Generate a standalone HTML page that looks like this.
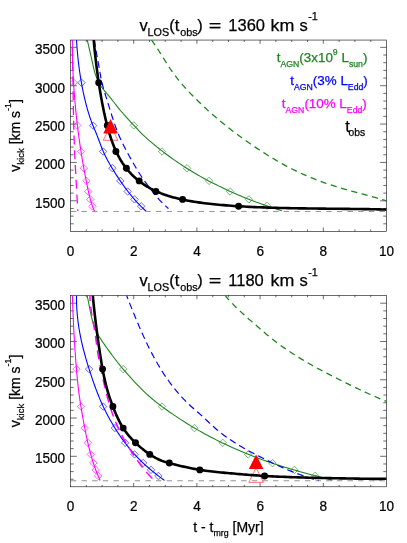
<!DOCTYPE html>
<html><head><meta charset="utf-8"><title>v_kick vs t - t_mrg</title>
<style>html,body{margin:0;padding:0;background:#fff;}body{width:407px;height:543px;overflow:hidden;font-family:"Liberation Sans", sans-serif;}</style></head>
<body>
<svg width="407" height="543" viewBox="0 0 407 543" font-family='"Liberation Sans", sans-serif' style="display:block;will-change:transform">
<rect width="407" height="543" fill="#fff"/>
<clipPath id="clip0"><rect x="70.5" y="40.05" width="316" height="191.25"/></clipPath>
<path d="M70.5 223.81h3.2M386.5 223.81h-3.2M70.5 216.13h3.2M386.5 216.13h-3.2M70.5 208.46h3.2M386.5 208.46h-3.2M70.5 200.79h6.3M386.5 200.79h-6.3M70.5 193.12h3.2M386.5 193.12h-3.2M70.5 185.45h3.2M386.5 185.45h-3.2M70.5 177.77h3.2M386.5 177.77h-3.2M70.5 170.1h3.2M386.5 170.1h-3.2M70.5 162.43h6.3M386.5 162.43h-6.3M70.5 154.76h3.2M386.5 154.76h-3.2M70.5 147.09h3.2M386.5 147.09h-3.2M70.5 139.41h3.2M386.5 139.41h-3.2M70.5 131.74h3.2M386.5 131.74h-3.2M70.5 124.07h6.3M386.5 124.07h-6.3M70.5 116.4h3.2M386.5 116.4h-3.2M70.5 108.73h3.2M386.5 108.73h-3.2M70.5 101.05h3.2M386.5 101.05h-3.2M70.5 93.38h3.2M386.5 93.38h-3.2M70.5 85.71h6.3M386.5 85.71h-6.3M70.5 78.04h3.2M386.5 78.04h-3.2M70.5 70.37h3.2M386.5 70.37h-3.2M70.5 62.69h3.2M386.5 62.69h-3.2M70.5 55.02h3.2M386.5 55.02h-3.2M70.5 47.35h6.3M386.5 47.35h-6.3M86.3 231.3v-1.9M86.3 40.05v1.9M102.1 231.3v-1.9M102.1 40.05v1.9M117.9 231.3v-1.9M117.9 40.05v1.9M133.7 231.3v-3.8M133.7 40.05v3.8M149.5 231.3v-1.9M149.5 40.05v1.9M165.3 231.3v-1.9M165.3 40.05v1.9M181.1 231.3v-1.9M181.1 40.05v1.9M196.9 231.3v-3.8M196.9 40.05v3.8M212.7 231.3v-1.9M212.7 40.05v1.9M228.5 231.3v-1.9M228.5 40.05v1.9M244.3 231.3v-1.9M244.3 40.05v1.9M260.1 231.3v-3.8M260.1 40.05v3.8M275.9 231.3v-1.9M275.9 40.05v1.9M291.7 231.3v-1.9M291.7 40.05v1.9M307.5 231.3v-1.9M307.5 40.05v1.9M323.3 231.3v-3.8M323.3 40.05v3.8M339.1 231.3v-1.9M339.1 40.05v1.9M354.9 231.3v-1.9M354.9 40.05v1.9M370.7 231.3v-1.9M370.7 40.05v1.9" stroke="#000" stroke-width="0.58" fill="none"/>
<rect x="70.5" y="40.05" width="316" height="191.25" fill="none" stroke="#000" stroke-width="0.58"/>
<g clip-path="url(#clip0)" fill="none" stroke-linecap="butt" stroke-linejoin="round">
<path d="M70.9 211.45H386.5" stroke="#808080" stroke-width="0.85" stroke-dasharray="5.4 5.24"/>
<path d="M72.4 39.9L72.36 42.6L72.35 45.33L72.35 48.1L72.36 50.89L72.4 53.7L72.45 56.53L72.51 59.39L72.59 62.26L72.69 65.14L72.8 68.03L72.92 70.93L73.06 73.84L73.21 76.75L73.37 79.65L73.55 82.56L73.73 85.46L73.93 88.35L74.13 91.23L74.35 94.1L74.58 96.95L74.81 99.78L75.05 102.59L75.3 105.38L75.56 108.14L75.83 110.86L76.1 113.56L76.37 116.22L76.66 118.85L76.94 121.43L77.24 123.97L77.53 126.47L77.83 128.92L78.13 131.32L78.44 133.68L78.74 135.99L79.05 138.25L79.36 140.47L79.67 142.65L79.98 144.78L80.3 146.87L80.61 148.91L80.92 150.91L81.22 152.87L81.53 154.78L81.84 156.65L82.14 158.49L82.44 160.28L82.74 162.04L83.04 163.77L83.34 165.46L83.64 167.12L83.93 168.74L84.22 170.34L84.52 171.91L84.81 173.46L85.09 174.97L85.38 176.47L85.67 177.94L85.95 179.39L86.23 180.82L86.51 182.24L86.79 183.63L87.07 185.01L87.34 186.37L87.62 187.71L87.9 189.03L88.18 190.33L88.46 191.61L88.75 192.87L89.04 194.12L89.33 195.34L89.62 196.55L89.92 197.73L90.23 198.89L90.54 200.04L90.86 201.16L91.18 202.26L91.51 203.34L91.85 204.4L92.2 205.44L92.56 206.45L92.93 207.45L93.3 208.42L93.69 209.37L94.09 210.3L94.5 211.2" stroke="#ff00ff" stroke-width="1.1"/>
<path d="M69.9 82.7L73.6 79L77.3 82.7L73.6 86.4ZM73.6 125.4L77.3 121.7L81 125.4L77.3 129.1ZM77.3 151.5L81 147.8L84.7 151.5L81 155.2ZM80.2 168.2L83.9 164.5L87.6 168.2L83.9 171.9ZM82.7 180.9L86.4 177.2L90.1 180.9L86.4 184.6ZM84.6 191.5L88.3 187.8L92 191.5L88.3 195.2ZM86.6 199.4L90.3 195.7L94 199.4L90.3 203.1ZM88.8 206.3L92.5 202.6L96.2 206.3L92.5 210Z" stroke="#ff00ff" stroke-width="0.6"/>
<path d="M76.5 39.9L76.71 43.26L76.94 46.57L77.2 49.84L77.48 53.06L77.78 56.24L78.11 59.37L78.45 62.45L78.82 65.49L79.21 68.47L79.61 71.41L80.03 74.29L80.47 77.13L80.93 79.91L81.4 82.64L81.89 85.32L82.39 87.94L82.9 90.51L83.42 93.03L83.96 95.49L84.51 97.89L85.06 100.24L85.63 102.53L86.2 104.76L86.79 106.93L87.37 109.05L87.97 111.1L88.57 113.09L89.17 115.02L89.78 116.89L90.39 118.7L91 120.44L91.61 122.12L92.23 123.74L92.84 125.28L93.45 126.77L94.06 128.22L94.67 129.64L95.28 131.06L95.9 132.51L96.52 134.01L97.14 135.58L97.77 137.23L98.41 138.95L99.06 140.73L99.73 142.56L100.42 144.43L101.14 146.32L101.89 148.22L102.67 150.13L103.49 152.02L104.35 153.9L105.24 155.76L106.17 157.59L107.12 159.4L108.09 161.19L109.08 162.96L110.08 164.7L111.09 166.42L112.1 168.11L113.11 169.77L114.11 171.4L115.12 173.01L116.12 174.59L117.12 176.14L118.12 177.67L119.12 179.17L120.11 180.64L121.11 182.09L122.1 183.51L123.09 184.9L124.07 186.27L125.05 187.62L126.04 188.94L127.02 190.24L127.99 191.51L128.97 192.75L129.94 193.97L130.91 195.17L131.88 196.34L132.84 197.49L133.81 198.62L134.77 199.72L135.72 200.8L136.68 201.86L137.63 202.89L138.58 203.9L139.53 204.89L140.48 205.86L141.42 206.8L142.36 207.73L143.3 208.63L144.24 209.51L145.17 210.36L146.1 211.2" stroke="#0000ff" stroke-width="1.1"/>
<path d="M77.8 82.7L81.5 79L85.2 82.7L81.5 86.4ZM89.4 125.6L93.1 121.9L96.8 125.6L93.1 129.3ZM99.4 151.5L103.1 147.8L106.8 151.5L103.1 155.2ZM108.7 168.2L112.4 164.5L116.1 168.2L112.4 171.9ZM116.6 180.9L120.3 177.2L124 180.9L120.3 184.6ZM124 191.5L127.7 187.8L131.4 191.5L127.7 195.2ZM130.8 199.4L134.5 195.7L138.2 199.4L134.5 203.1ZM137.5 206.3L141.2 202.6L144.9 206.3L141.2 210Z" stroke="#0000ff" stroke-width="0.6"/>
<path d="M87.2 39.8L90.3 53.2L94.6 72.1L98.4 82.8L98.4 82.8L99.02 83.71L99.75 84.72L100.58 85.82L101.49 86.99L102.47 88.23L103.5 89.51L104.58 90.83L105.68 92.16L106.79 93.51L107.9 94.85L108.99 96.17L110.05 97.45L111.07 98.69L112.02 99.87L112.91 100.98L113.73 102.03L114.51 103.02L115.26 103.99L115.99 104.93L116.72 105.87L117.46 106.82L118.23 107.8L119.05 108.81L119.92 109.87L120.87 111L121.91 112.21L123.05 113.51L124.28 114.89L125.58 116.33L126.93 117.81L128.31 119.31L129.69 120.82L131.06 122.31L132.4 123.76L133.68 125.15L134.9 126.48L136.06 127.74L137.19 128.96L138.31 130.16L139.45 131.35L140.64 132.55L141.89 133.79L143.23 135.08L144.68 136.43L146.23 137.84L147.88 139.31L149.62 140.82L151.43 142.37L153.3 143.94L155.23 145.54L157.19 147.14L159.2 148.74L161.22 150.33L163.26 151.9L165.3 153.45L167.34 154.97L169.39 156.48L171.44 157.96L173.5 159.41L175.55 160.85L177.62 162.26L179.68 163.65L181.74 165.02L183.81 166.36L185.88 167.69L187.95 168.99L190.02 170.27L192.09 171.53L194.15 172.77L196.22 173.99L198.29 175.19L200.36 176.37L202.42 177.53L204.49 178.67L206.55 179.79L208.61 180.89L210.67 181.98L212.72 183.04L214.77 184.08L216.82 185.11L218.86 186.12L220.9 187.11L222.93 188.08L224.96 189.04L226.98 189.98L229 190.9L231.01 191.81L233.01 192.7L235.01 193.57L237 194.42L238.99 195.26L240.96 196.09L242.93 196.9L244.89 197.69L246.84 198.47L248.78 199.23L250.71 199.98L252.63 200.72L254.55 201.44L256.45 202.15L258.34 202.84L260.22 203.52L262.09 204.18L263.95 204.84L265.79 205.48L267.62 206.11L269.44 206.72L271.25 207.32L273.04 207.92L274.82 208.5L276.59 209.06L278.34 209.62L280.08 210.17L281.8 210.7" stroke="#1e841e" stroke-width="1.1"/>
<path d="M130.1 125.4L133.8 121.7L137.5 125.4L133.8 129.1ZM158.3 151.5L162 147.8L165.7 151.5L162 155.2ZM183.3 168.2L187 164.5L190.7 168.2L187 171.9ZM205.4 180.9L209.1 177.2L212.8 180.9L209.1 184.6ZM226.3 191.5L230 187.8L233.7 191.5L230 195.2ZM245.2 199.4L248.9 195.7L252.6 199.4L248.9 203.1ZM263.3 205.8L267 202.1L270.7 205.8L267 209.5Z" stroke="#1e841e" stroke-width="0.6"/>
<path d="M151.5 39.9L152.83 41.82L154.05 43.6L155.18 45.26L156.23 46.82L157.21 48.29L158.12 49.68L158.98 51L159.8 52.28L160.6 53.53L161.37 54.76L162.13 55.98L162.9 57.21L163.67 58.46L164.47 59.75L165.31 61.09L166.18 62.49L167.08 63.93L168.03 65.41L169.02 66.93L170.06 68.49L171.14 70.08L172.27 71.7L173.45 73.35L174.68 75.01L175.95 76.69L177.26 78.38L178.59 80.07L179.96 81.75L181.34 83.42L182.74 85.07L184.16 86.69L185.58 88.29L187.01 89.85L188.44 91.38L189.88 92.89L191.31 94.36L192.74 95.82L194.17 97.25L195.6 98.66L197.01 100.05L198.42 101.42L199.83 102.77L201.22 104.12L202.62 105.45L204.02 106.76L205.42 108.07L206.82 109.37L208.24 110.66L209.66 111.95L211.09 113.23L212.54 114.51L214 115.79L215.48 117.07L216.98 118.36L218.5 119.64L220.05 120.94L221.62 122.24L223.23 123.55L224.86 124.86L226.52 126.18L228.2 127.51L229.9 128.84L231.62 130.17L233.37 131.5L235.13 132.84L236.9 134.17L238.69 135.5L240.49 136.82L242.31 138.14L244.13 139.45L245.96 140.76L247.8 142.05L249.64 143.34L251.49 144.62L253.33 145.88L255.18 147.13L257.02 148.36L258.86 149.58L260.71 150.78L262.55 151.97L264.39 153.15L266.22 154.3L268.06 155.45L269.9 156.58L271.74 157.69L273.58 158.79L275.42 159.88L277.26 160.94L279.11 162L280.95 163.04L282.8 164.06L284.65 165.07L286.5 166.07L288.36 167.05L290.22 168.01L292.08 168.96L293.95 169.9L295.82 170.82L297.7 171.72L299.58 172.61L301.46 173.49L303.35 174.35L305.25 175.2L307.15 176.03L309.06 176.84L310.97 177.64L312.9 178.43L314.82 179.2L316.76 179.96L318.7 180.7L320.66 181.43L322.61 182.14L324.58 182.84L326.56 183.52L328.54 184.19L330.53 184.84L332.52 185.49L334.52 186.12L336.52 186.73L338.51 187.34L340.51 187.94L342.5 188.52L344.5 189.1L346.48 189.67L348.46 190.23L350.44 190.78L352.4 191.32L354.35 191.86L356.3 192.39L358.23 192.91L360.15 193.43L362.05 193.95L363.94 194.46L365.8 194.97L367.65 195.47L369.48 195.98L371.29 196.48L373.08 196.98L374.84 197.48L376.58 197.98L378.29 198.47L379.97 198.98L381.63 199.48L383.25 199.98L384.84 200.49L386.4 201" stroke="#1e841e" stroke-width="1.3" stroke-dasharray="6.2 4.5"/>
<path d="M94.5 39.9L94.77 42.09L95.06 44.22L95.37 46.32L95.7 48.38L96.04 50.43L96.4 52.47L96.76 54.52L97.14 56.59L97.53 58.69L97.92 60.83L98.32 63.04L98.73 65.31L99.13 67.66L99.55 70.07L99.98 72.52L100.41 74.97L100.87 77.41L101.35 79.8L101.85 82.12L102.38 84.35L102.93 86.5L103.51 88.58L104.11 90.63L104.73 92.68L105.36 94.73L106.01 96.82L106.67 98.94L107.34 101.09L108.01 103.25L108.69 105.43L109.37 107.61L110.04 109.78L110.71 111.93L111.38 114.08L112.06 116.22L112.73 118.34L113.42 120.45L114.12 122.55L114.84 124.64L115.57 126.72L116.33 128.8L117.11 130.86L117.92 132.91L118.76 134.96L119.64 136.99L120.54 139.02L121.48 141.04L122.45 143.06L123.44 145.06L124.45 147.06L125.48 149.05L126.53 151.03L127.6 153.01L128.68 154.98L129.76 156.94L130.86 158.89L131.95 160.83L133.05 162.77L134.15 164.68L135.23 166.56L136.31 168.39L137.37 170.16L138.41 171.86L139.43 173.48L140.43 175.04L141.42 176.55L142.43 178.03L143.45 179.49L144.49 180.97L145.56 182.45L146.65 183.93L147.76 185.4L148.87 186.86L149.98 188.31L151.09 189.74L152.2 191.13L153.28 192.5L154.35 193.82L155.39 195.1L156.4 196.33L157.4 197.51L158.38 198.66L159.36 199.77L160.33 200.84L161.31 201.88L162.3 202.89L163.3 203.88L164.31 204.83L165.3 205.73L166.23 206.58L167.07 207.34L167.81 208.02L168.4 208.6" stroke="#0000ff" stroke-width="1.18" stroke-dasharray="6.7 4.1"/>
<path d="M72.2 39.9L72.27 42.72L72.33 45.5L72.4 48.22L72.45 50.89L72.51 53.51L72.56 56.09L72.61 58.61L72.66 61.1L72.7 63.54L72.75 65.94L72.79 68.3L72.83 70.63L72.86 72.91L72.9 75.16L72.93 77.38L72.96 79.56L72.99 81.71L73.02 83.83L73.05 85.93L73.08 87.99L73.11 90.04L73.13 92.05L73.16 94.05L73.19 96.02L73.21 97.97L73.24 99.91L73.27 101.83L73.3 103.73L73.32 105.62L73.35 107.49L73.38 109.36L73.42 111.22L73.45 113.06L73.48 114.9L73.52 116.74L73.55 118.57L73.59 120.4L73.64 122.23L73.68 124.05L73.73 125.88L73.77 127.72L73.82 129.56L73.88 131.4L73.94 133.25L74 135.11L74.06 136.98L74.13 138.86L74.2 140.75L74.27 142.65L74.34 144.56L74.42 146.47L74.5 148.4L74.59 150.33L74.67 152.26L74.76 154.2L74.85 156.15L74.94 158.11L75.04 160.07L75.13 162.03L75.23 164L75.33 165.97L75.43 167.94L75.54 169.92L75.64 171.9L75.75 173.88L75.86 175.87L75.96 177.85L76.07 179.84L76.18 181.82L76.3 183.81L76.41 185.8L76.52 187.78L76.64 189.76L76.75 191.74L76.86 193.71L76.97 195.65L77.08 197.57L77.19 199.45L77.29 201.29L77.39 203.08L77.49 204.81L77.58 206.47L77.66 208.07L77.73 209.58L77.8 211" stroke="#ff00ff" stroke-width="1.3" stroke-dasharray="9 5.75" stroke-dashoffset="7.6"/>
<path d="M110.55 125.9L117.85 140.3L103.25 140.3Z" stroke="#ff0000" stroke-width="0.55"/>
<path d="M93.7 39.9L93.86 41.76L94.04 43.65L94.22 45.55L94.4 47.48L94.59 49.42L94.8 51.37L95 53.35L95.22 55.34L95.44 57.34L95.67 59.35L95.9 61.37L96.15 63.41L96.4 65.45L96.65 67.5L96.92 69.55L97.19 71.61L97.47 73.68L97.75 75.75L98.04 77.82L98.34 79.89L98.65 81.96L98.96 84.03L99.28 86.09L99.6 88.16L99.93 90.21L100.27 92.26L100.62 94.31L100.97 96.34L101.33 98.37L101.7 100.38L102.07 102.39L102.45 104.38L102.84 106.35L103.23 108.31L103.63 110.26L104.04 112.18L104.45 114.09L104.87 115.98L105.3 117.85L105.73 119.69L106.17 121.52L106.62 123.32L107.07 125.09L107.53 126.83L108 128.55L108.47 130.25L108.95 131.91L109.44 133.56L109.94 135.17L110.45 136.76L110.96 138.33L111.48 139.87L112.02 141.38L112.56 142.87L113.11 144.33L113.68 145.78L114.25 147.19L114.84 148.58L115.44 149.95L116.04 151.29L116.67 152.61L117.3 153.91L117.94 155.19L118.6 156.44L119.27 157.67L119.96 158.87L120.65 160.06L121.36 161.22L122.09 162.36L122.82 163.49L123.57 164.59L124.34 165.67L125.11 166.73L125.9 167.78L126.71 168.8L127.53 169.81L128.36 170.79L129.21 171.76L130.07 172.72L130.94 173.65L131.83 174.57L132.74 175.47L133.66 176.36L134.6 177.23L135.55 178.08L136.51 178.92L137.49 179.74L138.49 180.55L139.5 181.35L140.53 182.13L141.58 182.9L142.64 183.65L143.72 184.39L144.82 185.12L145.94 185.83L147.08 186.53L148.24 187.22L149.42 187.89L150.63 188.56L151.85 189.2L153.1 189.84L154.38 190.46L155.68 191.07L157.01 191.66L158.36 192.24L159.74 192.81L161.15 193.37L162.58 193.92L164.05 194.45L165.54 194.97L167.07 195.48L168.63 195.98L170.22 196.46L171.84 196.93L173.49 197.39L175.18 197.84L176.91 198.28L178.67 198.7L180.47 199.12L182.3 199.52L184.17 199.91L186.08 200.29L188.02 200.66L190 201.01L192.02 201.36L194.07 201.7L196.16 202.02L198.28 202.34L200.43 202.64L202.61 202.94L204.83 203.22L207.08 203.5L209.35 203.76L211.66 204.02L214 204.26L216.36 204.5L218.76 204.73L221.18 204.95L223.62 205.16L226.09 205.37L228.59 205.56L231.11 205.75L233.66 205.93L236.23 206.1L238.82 206.26L241.44 206.42L244.07 206.57L246.73 206.71L249.4 206.84L252.09 206.97L254.8 207.09L257.52 207.21L260.26 207.32L263.01 207.42L265.77 207.52L268.55 207.61L271.33 207.7L274.12 207.78L276.92 207.86L279.73 207.93L282.54 208L285.35 208.07L288.17 208.13L290.99 208.19L293.81 208.24L296.63 208.29L299.45 208.34L302.27 208.38L305.08 208.42L307.89 208.46L310.69 208.5L313.49 208.54L316.27 208.57L319.05 208.6L321.82 208.63L324.58 208.66L327.32 208.69L330.05 208.72L332.77 208.74L335.47 208.77L338.15 208.79L340.81 208.82L343.46 208.85L346.08 208.87L348.68 208.9L351.26 208.93L353.82 208.96L356.35 208.99L358.86 209.02L361.34 209.06L363.79 209.09L366.21 209.13L368.6 209.17L370.96 209.21L373.29 209.26L375.58 209.31L377.84 209.36L380.06 209.41L382.25 209.47L384.39 209.53L386.5 209.6" stroke="#000" stroke-width="2.6"/>
<g fill="#000" stroke="none"><circle cx="98.7" cy="82.7" r="3.45"/><circle cx="107.3" cy="125.4" r="3.45"/><circle cx="115.9" cy="151.5" r="3.45"/><circle cx="126.4" cy="168.2" r="3.45"/><circle cx="139.2" cy="180.9" r="3.45"/><circle cx="155.9" cy="191.5" r="3.45"/><circle cx="182.6" cy="199.4" r="3.45"/><circle cx="238.6" cy="206.3" r="3.45"/></g>
<path d="M110.55 119L117.85 133.4L103.25 133.4Z" fill="#ff0000" stroke="none"/>
</g>
<g font-size="14.6" fill="#000" stroke="#000" stroke-width="0.25">
<text transform="translate(65.1 207.79) scale(0.93 1)" text-anchor="end">1500</text>
<text transform="translate(65.1 169.43) scale(0.93 1)" text-anchor="end">2000</text>
<text transform="translate(65.1 131.07) scale(0.93 1)" text-anchor="end">2500</text>
<text transform="translate(65.1 92.71) scale(0.93 1)" text-anchor="end">3000</text>
<text transform="translate(65.1 54.35) scale(0.93 1)" text-anchor="end">3500</text>
<text transform="translate(70.6 255.9) scale(0.93 1)" text-anchor="middle">0</text>
<text transform="translate(133.8 255.9) scale(0.93 1)" text-anchor="middle">2</text>
<text transform="translate(197 255.9) scale(0.93 1)" text-anchor="middle">4</text>
<text transform="translate(260.2 255.9) scale(0.93 1)" text-anchor="middle">6</text>
<text transform="translate(323.4 255.9) scale(0.93 1)" text-anchor="middle">8</text>
<text transform="translate(386.6 255.9) scale(0.93 1)" text-anchor="middle">10</text>
</g>
<clipPath id="clip1"><rect x="70.5" y="295.4" width="316" height="191.4"/></clipPath>
<path d="M70.5 479.26h3.2M386.5 479.26h-3.2M70.5 471.61h3.2M386.5 471.61h-3.2M70.5 463.96h3.2M386.5 463.96h-3.2M70.5 456.3h6.3M386.5 456.3h-6.3M70.5 448.64h3.2M386.5 448.64h-3.2M70.5 440.99h3.2M386.5 440.99h-3.2M70.5 433.34h3.2M386.5 433.34h-3.2M70.5 425.68h3.2M386.5 425.68h-3.2M70.5 418.02h6.3M386.5 418.02h-6.3M70.5 410.37h3.2M386.5 410.37h-3.2M70.5 402.72h3.2M386.5 402.72h-3.2M70.5 395.06h3.2M386.5 395.06h-3.2M70.5 387.4h3.2M386.5 387.4h-3.2M70.5 379.75h6.3M386.5 379.75h-6.3M70.5 372.1h3.2M386.5 372.1h-3.2M70.5 364.44h3.2M386.5 364.44h-3.2M70.5 356.78h3.2M386.5 356.78h-3.2M70.5 349.13h3.2M386.5 349.13h-3.2M70.5 341.48h6.3M386.5 341.48h-6.3M70.5 333.82h3.2M386.5 333.82h-3.2M70.5 326.16h3.2M386.5 326.16h-3.2M70.5 318.51h3.2M386.5 318.51h-3.2M70.5 310.86h3.2M386.5 310.86h-3.2M70.5 303.2h6.3M386.5 303.2h-6.3M86.3 486.8v-1.9M86.3 295.4v1.9M102.1 486.8v-1.9M102.1 295.4v1.9M117.9 486.8v-1.9M117.9 295.4v1.9M133.7 486.8v-3.8M133.7 295.4v3.8M149.5 486.8v-1.9M149.5 295.4v1.9M165.3 486.8v-1.9M165.3 295.4v1.9M181.1 486.8v-1.9M181.1 295.4v1.9M196.9 486.8v-3.8M196.9 295.4v3.8M212.7 486.8v-1.9M212.7 295.4v1.9M228.5 486.8v-1.9M228.5 295.4v1.9M244.3 486.8v-1.9M244.3 295.4v1.9M260.1 486.8v-3.8M260.1 295.4v3.8M275.9 486.8v-1.9M275.9 295.4v1.9M291.7 486.8v-1.9M291.7 295.4v1.9M307.5 486.8v-1.9M307.5 295.4v1.9M323.3 486.8v-3.8M323.3 295.4v3.8M339.1 486.8v-1.9M339.1 295.4v1.9M354.9 486.8v-1.9M354.9 295.4v1.9M370.7 486.8v-1.9M370.7 295.4v1.9" stroke="#000" stroke-width="0.58" fill="none"/>
<rect x="70.5" y="295.4" width="316" height="191.4" fill="none" stroke="#000" stroke-width="0.58"/>
<g clip-path="url(#clip1)" fill="none" stroke-linecap="butt" stroke-linejoin="round">
<path d="M70.9 480.75H386.5" stroke="#808080" stroke-width="0.85" stroke-dasharray="5.4 5.24"/>
<path d="M72.4 295.4L72.5 298.68L72.6 301.92L72.71 305.13L72.83 308.31L72.95 311.45L73.08 314.56L73.21 317.63L73.35 320.67L73.49 323.67L73.63 326.63L73.78 329.55L73.94 332.44L74.1 335.28L74.26 338.09L74.42 340.85L74.59 343.57L74.76 346.26L74.93 348.9L75.11 351.49L75.29 354.05L75.47 356.56L75.65 359.02L75.84 361.44L76.02 363.82L76.21 366.14L76.4 368.42L76.59 370.66L76.78 372.85L76.97 374.99L77.17 377.1L77.37 379.18L77.58 381.22L77.79 383.24L78 385.24L78.23 387.22L78.46 389.18L78.7 391.13L78.96 393.08L79.22 395.02L79.49 396.96L79.77 398.9L80.05 400.85L80.35 402.81L80.66 404.78L80.98 406.77L81.31 408.78L81.64 410.81L81.99 412.85L82.34 414.89L82.7 416.94L83.06 418.98L83.43 421.01L83.8 423.03L84.17 425.03L84.55 427L84.93 428.94L85.3 430.85L85.68 432.73L86.06 434.58L86.44 436.39L86.82 438.17L87.21 439.92L87.59 441.63L87.97 443.3L88.36 444.94L88.74 446.54L89.13 448.11L89.52 449.65L89.9 451.15L90.29 452.62L90.68 454.06L91.07 455.47L91.47 456.85L91.86 458.21L92.26 459.53L92.65 460.83L93.05 462.1L93.45 463.34L93.85 464.56L94.25 465.75L94.66 466.93L95.07 468.08L95.47 469.2L95.88 470.31L96.3 471.4L96.71 472.47L97.13 473.51L97.54 474.54L97.96 475.56L98.39 476.56L98.81 477.54L99.24 478.51L99.67 479.46L100.1 480.4" stroke="#ff00ff" stroke-width="1.1"/>
<path d="M72.8 369.1L76.5 365.4L80.2 369.1L76.5 372.8ZM77.3 406.5L81 402.8L84.7 406.5L81 410.2ZM81 428.1L84.7 424.4L88.4 428.1L84.7 431.8ZM84.2 442.8L87.9 439.1L91.6 442.8L87.9 446.5ZM87.1 454.4L90.8 450.7L94.5 454.4L90.8 458.1ZM89.6 463L93.3 459.3L97 463L93.3 466.7ZM92 469.9L95.7 466.2L99.4 469.9L95.7 473.6ZM94.5 476L98.2 472.3L101.9 476L98.2 479.7Z" stroke="#ff00ff" stroke-width="0.6"/>
<path d="M76.5 295.4L76.49 298.56L76.53 301.68L76.63 304.77L76.77 307.83L76.97 310.85L77.2 313.83L77.48 316.78L77.8 319.7L78.16 322.57L78.56 325.41L78.99 328.22L79.45 330.98L79.94 333.71L80.46 336.4L81 339.05L81.57 341.66L82.16 344.23L82.76 346.76L83.38 349.25L84.02 351.71L84.67 354.12L85.33 356.49L85.99 358.81L86.66 361.1L87.33 363.34L88.01 365.55L88.68 367.7L89.35 369.82L90.01 371.89L90.67 373.93L91.33 375.92L91.99 377.88L92.64 379.82L93.3 381.72L93.96 383.6L94.62 385.46L95.29 387.3L95.96 389.12L96.64 390.93L97.33 392.73L98.03 394.52L98.75 396.31L99.48 398.1L100.24 399.89L101.01 401.69L101.81 403.49L102.64 405.31L103.5 407.14L104.39 408.99L105.31 410.85L106.26 412.72L107.24 414.59L108.23 416.46L109.25 418.32L110.28 420.18L111.33 422.02L112.39 423.84L113.46 425.64L114.53 427.41L115.61 429.15L116.7 430.86L117.78 432.53L118.87 434.17L119.96 435.78L121.05 437.36L122.15 438.9L123.24 440.41L124.33 441.89L125.42 443.33L126.51 444.74L127.59 446.12L128.68 447.47L129.76 448.79L130.84 450.07L131.92 451.33L133 452.57L134.07 453.77L135.15 454.95L136.23 456.11L137.3 457.24L138.37 458.35L139.45 459.43L140.52 460.5L141.59 461.54L142.66 462.57L143.73 463.58L144.8 464.56L145.87 465.54L146.94 466.49L148.01 467.43L149.08 468.36L150.15 469.27L151.22 470.18L152.28 471.07L153.35 471.94L154.42 472.8L155.48 473.65L156.53 474.48L157.57 475.29L158.61 476.09L159.63 476.86L160.64 477.62L161.63 478.35L162.6 479.06L163.56 479.74L164.5 480.4" stroke="#0000ff" stroke-width="1.1"/>
<path d="M85.4 369.1L89.1 365.4L92.8 369.1L89.1 372.8ZM99.4 406.5L103.1 402.8L106.8 406.5L103.1 410.2ZM111.2 428.1L114.9 424.4L118.6 428.1L114.9 431.8ZM121.5 442.8L125.2 439.1L128.9 442.8L125.2 446.5ZM130.8 454.4L134.5 450.7L138.2 454.4L134.5 458.1ZM139.4 463L143.1 459.3L146.8 463L143.1 466.7ZM147.3 469.9L151 466.2L154.7 469.9L151 473.6ZM154.7 476L158.4 472.3L162.1 476L158.4 479.7Z" stroke="#0000ff" stroke-width="0.6"/>
<path d="M87.1 295.4L87.47 297.09L87.82 298.76L88.16 300.42L88.49 302.06L88.81 303.69L89.13 305.3L89.44 306.9L89.75 308.48L90.05 310.04L90.37 311.59L90.68 313.12L91.01 314.63L91.34 316.13L91.69 317.61L92.06 319.07L92.44 320.51L92.84 321.94L93.26 323.35L93.71 324.75L94.19 326.13L94.7 327.52L95.27 328.91L95.88 330.32L96.55 331.75L97.29 333.21L98.1 334.71L98.99 336.25L99.96 337.84L100.98 339.46L102.06 341.11L103.18 342.77L104.33 344.43L105.49 346.08L106.66 347.71L107.82 349.31L108.96 350.87L110.07 352.38L111.14 353.83L112.16 355.21L113.15 356.53L114.09 357.79L114.99 358.99L115.86 360.13L116.7 361.22L117.5 362.26L118.28 363.24L119.03 364.19L119.78 365.1L120.54 366.02L121.34 366.98L122.21 367.99L123.16 369.1L124.22 370.32L125.38 371.65L126.65 373.09L128 374.62L129.43 376.22L130.93 377.88L132.47 379.57L134.06 381.3L135.68 383.04L137.32 384.77L138.97 386.49L140.61 388.17L142.24 389.8L143.85 391.37L145.43 392.88L147.01 394.35L148.59 395.78L150.17 397.17L151.77 398.54L153.4 399.89L155.05 401.23L156.74 402.57L158.48 403.92L160.28 405.28L162.14 406.66L164.07 408.07L166.06 409.5L168.11 410.96L170.22 412.43L172.37 413.91L174.56 415.4L176.78 416.89L179.02 418.37L181.29 419.85L183.57 421.32L185.85 422.77L188.14 424.2L190.41 425.6L192.67 426.97L194.92 428.31L197.14 429.61L199.33 430.87L201.5 432.09L203.66 433.29L205.79 434.45L207.91 435.59L210.02 436.69L212.11 437.78L214.19 438.84L216.27 439.88L218.33 440.9L220.39 441.9L222.45 442.89L224.5 443.86L226.55 444.82L228.6 445.77L230.64 446.71L232.69 447.63L234.73 448.54L236.77 449.44L238.8 450.32L240.83 451.2L242.87 452.06L244.89 452.9L246.92 453.74L248.94 454.56L250.96 455.36L252.98 456.16L254.99 456.94L257.01 457.71L259.01 458.47L261.02 459.22L263.02 459.95L265.02 460.67L267.02 461.38L269.01 462.08L271 462.76L272.99 463.43L274.97 464.09L276.95 464.73L278.92 465.37L280.89 465.99L282.85 466.61L284.81 467.21L286.77 467.8L288.71 468.38L290.65 468.95L292.58 469.51L294.51 470.07L296.43 470.61L298.33 471.14L300.23 471.67L302.12 472.19L304 472.7L305.87 473.21L307.73 473.7L309.58 474.19L311.41 474.68L313.24 475.16L315.05 475.63L316.85 476.09L318.64 476.56L320.41 477.01L322.17 477.46L323.91 477.91L325.64 478.36L327.35 478.8L329.05 479.23L330.73 479.67L332.4 480.1" stroke="#1e841e" stroke-width="1.1"/>
<path d="M119.5 369.1L123.2 365.4L126.9 369.1L123.2 372.8ZM158.3 406.5L162 402.8L165.7 406.5L162 410.2ZM190.7 428.1L194.4 424.4L198.1 428.1L194.4 431.8ZM219 442.8L222.7 439.1L226.4 442.8L222.7 446.5ZM244.5 454.5L248.2 450.8L251.9 454.5L248.2 458.2ZM268.8 463.2L272.5 459.5L276.2 463.2L272.5 466.9ZM290.7 469.9L294.4 466.2L298.1 469.9L294.4 473.6ZM311.5 475.8L315.2 472.1L318.9 475.8L315.2 479.5Z" stroke="#1e841e" stroke-width="0.6"/>
<path d="M225.1 295.4L226.38 296.97L227.73 298.55L229.14 300.14L230.6 301.74L232.11 303.33L233.66 304.92L235.24 306.5L236.83 308.06L238.44 309.6L240.05 311.12L241.65 312.61L243.24 314.06L244.8 315.47L246.33 316.84L247.83 318.16L249.27 319.42L250.65 320.62L251.97 321.76L253.21 322.83L254.37 323.83L255.44 324.74L256.44 325.6L257.39 326.42L258.33 327.23L259.29 328.06L260.29 328.94L261.37 329.88L262.52 330.89L263.75 331.95L265.03 333.06L266.38 334.21L267.78 335.39L269.23 336.6L270.72 337.82L272.25 339.05L273.82 340.29L275.42 341.52L277.05 342.75L278.7 343.98L280.38 345.21L282.07 346.42L283.78 347.63L285.5 348.82L287.23 350L288.96 351.17L290.69 352.32L292.43 353.45L294.16 354.57L295.9 355.67L297.64 356.76L299.38 357.83L301.12 358.89L302.86 359.93L304.6 360.97L306.34 361.98L308.08 362.99L309.82 363.99L311.56 364.97L313.3 365.94L315.04 366.91L316.78 367.86L318.52 368.81L320.26 369.74L322 370.67L323.74 371.59L325.48 372.5L327.21 373.41L328.95 374.31L330.68 375.2L332.42 376.09L334.15 376.97L335.88 377.85L337.61 378.72L339.34 379.59L341.07 380.46L342.79 381.33L344.52 382.19L346.26 383.06L348.01 383.93L349.77 384.8L351.56 385.67L353.37 386.55L355.2 387.44L357.08 388.34L358.99 389.25L360.94 390.16L362.94 391.09L364.99 392.04L367.09 393L369.25 393.98L371.48 394.97L373.77 395.99L376.13 397.02L378.58 398.08L381.1 399.16L383.7 400.27L386.4 401.4" stroke="#1e841e" stroke-width="1.3" stroke-dasharray="6.2 4.5"/>
<path d="M126.5 295.4L127.37 297.58L128.22 299.71L129.06 301.81L129.88 303.87L130.69 305.89L131.49 307.87L132.28 309.83L133.06 311.75L133.83 313.65L134.6 315.53L135.36 317.38L136.12 319.21L136.88 321.02L137.64 322.82L138.4 324.6L139.15 326.38L139.92 328.14L140.68 329.89L141.46 331.65L142.23 333.39L143.02 335.13L143.81 336.87L144.61 338.6L145.41 340.32L146.22 342.04L147.04 343.75L147.87 345.45L148.7 347.15L149.55 348.84L150.4 350.52L151.26 352.2L152.13 353.86L153 355.52L153.89 357.17L154.79 358.82L155.69 360.45L156.61 362.08L157.54 363.69L158.48 365.3L159.44 366.91L160.4 368.5L161.39 370.09L162.38 371.67L163.39 373.24L164.42 374.8L165.47 376.36L166.53 377.91L167.61 379.46L168.7 381L169.82 382.53L170.96 384.06L172.12 385.58L173.29 387.09L174.49 388.6L175.7 390.09L176.94 391.58L178.19 393.05L179.45 394.51L180.74 395.95L182.04 397.37L183.35 398.78L184.68 400.17L186.02 401.54L187.38 402.89L188.75 404.22L190.13 405.52L191.52 406.79L192.93 408.04L194.35 409.27L195.78 410.5L197.24 411.75L198.72 413.03L200.24 414.36L201.79 415.76L203.36 417.22L204.96 418.71L206.58 420.24L208.21 421.78L209.84 423.31L211.47 424.82L213.1 426.3L214.73 427.76L216.37 429.19L218.03 430.6L219.71 431.99L221.42 433.35L223.16 434.69L224.93 436.02L226.74 437.32L228.57 438.6L230.43 439.86L232.32 441.11L234.22 442.33L236.14 443.53L238.08 444.72L240.02 445.89L241.98 447.04L243.95 448.17L245.92 449.28L247.9 450.38L249.88 451.46L251.85 452.52L253.82 453.57L255.78 454.6L257.74 455.61L259.68 456.61L261.61 457.59L263.52 458.56L265.43 459.51L267.32 460.44L269.2 461.36L271.07 462.27L272.92 463.16L274.77 464.03L276.6 464.88L278.43 465.72L280.25 466.55L282.05 467.35L283.85 468.15L285.64 468.92L287.42 469.68L289.2 470.42L290.97 471.15L292.72 471.86L294.48 472.55L296.22 473.23L297.96 473.89L299.7 474.53L301.43 475.16L303.15 475.77L304.87 476.36L306.59 476.94L308.3 477.5L310 478.04L311.71 478.57L313.41 479.08L315.11 479.57L316.81 480.04L318.5 480.5" stroke="#0000ff" stroke-width="1.18" stroke-dasharray="6.7 4.1" stroke-dashoffset="2.8"/>
<path d="M152.4 478.5L151.33 477.48L150.21 476.35L149.05 475.12L147.86 473.8L146.63 472.39L145.37 470.91L144.1 469.34L142.8 467.72L141.49 466.03L140.17 464.29L138.85 462.5L137.52 460.67L136.2 458.81L134.89 456.92L133.59 455.01L132.31 453.08L131.05 451.15L129.81 449.22L128.61 447.28L127.42 445.33L126.26 443.36L125.11 441.37L123.99 439.36L122.88 437.31L121.79 435.23L120.72 433.1L119.66 430.93L118.61 428.72L117.58 426.46L116.58 424.16L115.59 421.83L114.63 419.46L113.69 417.08L112.79 414.67L111.91 412.24L111.08 409.8L110.28 407.35L109.52 404.89L108.8 402.45L108.13 400.05L107.49 397.7L106.9 395.42L106.35 393.24L105.84 391.17L105.37 389.25L104.95 387.48L104.57 385.88L104.22 384.46L103.9 383.15L103.6 381.89L103.31 380.62L103 379.26L102.69 377.8L102.36 376.25L102.02 374.61L101.67 372.91L101.31 371.16L100.94 369.37L100.57 367.55L100.19 365.72L99.82 363.88L99.44 362.03L99.07 360.16L98.7 358.27L98.35 356.36L98.01 354.43L97.69 352.47L97.39 350.48L97.1 348.47L96.82 346.44L96.56 344.42L96.3 342.4L96.04 340.41L95.78 338.43L95.51 336.5L95.24 334.6L94.96 332.76L94.66 330.95L94.37 329.19L94.07 327.45L93.76 325.74L93.46 324.05L93.15 322.37L92.85 320.71L92.56 319.05L92.27 317.39L91.98 315.72L91.71 314.04L91.45 312.34L91.2 310.62L90.97 308.87L90.75 307.09L90.55 305.27L90.37 303.4L90.22 301.49L90.09 299.52L89.98 297.49L89.9 295.4" stroke="#ff00ff" stroke-width="1.45" stroke-dasharray="9 5.75"/>
<path d="M256.1 467.8L263.4 482.4L248.8 482.4Z" stroke="#ff0000" stroke-width="0.55"/>
<path d="M92.8 295.4L92.98 297.34L93.16 299.33L93.36 301.38L93.57 303.48L93.79 305.62L94.03 307.81L94.27 310.03L94.52 312.29L94.78 314.59L95.05 316.91L95.33 319.25L95.61 321.62L95.9 324L96.2 326.4L96.51 328.81L96.82 331.22L97.14 333.64L97.47 336.05L97.79 338.46L98.13 340.86L98.47 343.25L98.81 345.62L99.15 347.98L99.5 350.31L99.85 352.61L100.21 354.88L100.56 357.12L100.92 359.32L101.27 361.48L101.63 363.6L101.99 365.66L102.35 367.68L102.7 369.63L103.06 371.53L103.42 373.38L103.77 375.17L104.13 376.92L104.5 378.63L104.86 380.29L105.24 381.92L105.62 383.52L106 385.09L106.4 386.64L106.8 388.16L107.21 389.67L107.64 391.16L108.08 392.64L108.53 394.12L108.99 395.59L109.47 397.06L109.96 398.54L110.48 400.03L111.01 401.53L111.56 403.04L112.13 404.57L112.72 406.13L113.33 407.71L113.97 409.32L114.63 410.94L115.31 412.58L116.02 414.23L116.75 415.88L117.51 417.53L118.29 419.18L119.1 420.81L119.94 422.43L120.8 424.02L121.7 425.59L122.62 427.13L123.57 428.62L124.55 430.09L125.56 431.51L126.59 432.89L127.65 434.24L128.73 435.56L129.83 436.85L130.94 438.1L132.07 439.32L133.21 440.51L134.37 441.68L135.53 442.82L136.71 443.93L137.89 445.02L139.07 446.09L140.26 447.12L141.45 448.13L142.65 449.11L143.84 450.06L145.04 450.99L146.23 451.88L147.42 452.74L148.6 453.57L149.78 454.37L150.95 455.13L152.12 455.87L153.27 456.57L154.42 457.23L155.55 457.86L156.67 458.45L157.78 459L158.87 459.52L159.95 460L161.01 460.44L162.07 460.86L163.14 461.24L164.24 461.61L165.39 461.98L166.6 462.34L167.88 462.7L169.26 463.08L170.74 463.47L172.32 463.89L174 464.32L175.77 464.77L177.62 465.22L179.55 465.68L181.54 466.15L183.59 466.62L185.7 467.08L187.84 467.54L190.02 468L192.23 468.44L194.46 468.86L196.7 469.27L198.95 469.66L201.19 470.03L203.43 470.37L205.66 470.69L207.88 470.99L210.1 471.27L212.3 471.54L214.5 471.78L216.68 472.02L218.85 472.24L221.01 472.45L223.15 472.65L225.28 472.85L227.4 473.03L229.5 473.21L231.58 473.39L233.64 473.57L235.69 473.74L237.72 473.92L239.74 474.09L241.76 474.26L243.77 474.43L245.8 474.6L247.83 474.77L249.88 474.93L251.95 475.09L254.05 475.25L256.17 475.4L258.33 475.55L260.53 475.7L262.78 475.84L265.07 475.98L267.42 476.11L269.81 476.24L272.25 476.37L274.74 476.49L277.26 476.6L279.83 476.71L282.42 476.82L285.04 476.92L287.68 477.02L290.35 477.11L293.04 477.21L295.73 477.29L298.44 477.38L301.16 477.46L303.88 477.53L306.6 477.61L309.31 477.68L312.02 477.75L314.71 477.81L317.39 477.88L320.05 477.94L322.69 477.99L325.31 478.05L327.89 478.1L330.44 478.15L332.96 478.2L335.43 478.25L337.86 478.29L340.25 478.33L342.58 478.38L344.86 478.42L347.07 478.45L349.23 478.49L351.32 478.53L353.35 478.56L355.3 478.6L357.18 478.63L359 478.66L360.78 478.69L362.55 478.72L364.32 478.75L366.11 478.77L367.95 478.79L369.84 478.81L371.81 478.82L373.88 478.83L376.07 478.83L378.4 478.83L380.88 478.83L383.54 478.82L386.4 478.8" stroke="#000" stroke-width="2.6"/>
<g fill="#000" stroke="none"><circle cx="102.6" cy="369.1" r="3.45"/><circle cx="112.9" cy="406.5" r="3.45"/><circle cx="123.2" cy="428.1" r="3.45"/><circle cx="135.5" cy="442.8" r="3.45"/><circle cx="149.8" cy="454.4" r="3.45"/><circle cx="169.3" cy="463" r="3.45"/><circle cx="199.8" cy="469.9" r="3.45"/><circle cx="264.6" cy="476" r="3.45"/></g>
<path d="M256.1 454.5L263.4 469.1L248.8 469.1Z" fill="#ff0000" stroke="none"/>
</g>
<g font-size="14.6" fill="#000" stroke="#000" stroke-width="0.25">
<text transform="translate(65.1 463.3) scale(0.93 1)" text-anchor="end">1500</text>
<text transform="translate(65.1 425.02) scale(0.93 1)" text-anchor="end">2000</text>
<text transform="translate(65.1 386.75) scale(0.93 1)" text-anchor="end">2500</text>
<text transform="translate(65.1 348.48) scale(0.93 1)" text-anchor="end">3000</text>
<text transform="translate(65.1 310.2) scale(0.93 1)" text-anchor="end">3500</text>
<text transform="translate(70.6 511.4) scale(0.93 1)" text-anchor="middle">0</text>
<text transform="translate(133.8 511.4) scale(0.93 1)" text-anchor="middle">2</text>
<text transform="translate(197 511.4) scale(0.93 1)" text-anchor="middle">4</text>
<text transform="translate(260.2 511.4) scale(0.93 1)" text-anchor="middle">6</text>
<text transform="translate(323.4 511.4) scale(0.93 1)" text-anchor="middle">8</text>
<text transform="translate(386.6 511.4) scale(0.93 1)" text-anchor="middle">10</text>
</g>
<text font-size="16.5" fill="#000" stroke="#000" stroke-width="0.25"><tspan x="139.5" y="30.5">v</tspan><tspan x="147.5" y="35.7" font-size="10.81">LOS</tspan><tspan x="169.3" y="30.5">(t</tspan><tspan x="180.3" y="35.7" font-size="10.81">obs</tspan><tspan x="197.2" y="30.5">)</tspan><tspan x="208.7" y="30.5" textLength="12.6" lengthAdjust="spacingAndGlyphs">=</tspan><tspan x="228.3" y="30.5">1360</tspan><tspan x="270.5" y="30.5" textLength="23.8" lengthAdjust="spacingAndGlyphs">km</tspan><tspan x="299.5" y="30.5">s</tspan><tspan x="308.2" y="20.2" font-size="10.81">-1</tspan></text>
<text font-size="16.5" fill="#000" stroke="#000" stroke-width="0.25"><tspan x="139.5" y="286">v</tspan><tspan x="147.5" y="291.2" font-size="10.81">LOS</tspan><tspan x="169.3" y="286">(t</tspan><tspan x="180.3" y="291.2" font-size="10.81">obs</tspan><tspan x="197.2" y="286">)</tspan><tspan x="208.7" y="286" textLength="12.6" lengthAdjust="spacingAndGlyphs">=</tspan><tspan x="228.3" y="286">1180</tspan><tspan x="270.5" y="286" textLength="23.8" lengthAdjust="spacingAndGlyphs">km</tspan><tspan x="299.5" y="286">s</tspan><tspan x="308.2" y="275.7" font-size="10.81">-1</tspan></text>
<g font-size="13.4" stroke-width="0.25"><text x="367.4" y="62.3" text-anchor="end" fill="#1e841e" stroke="#1e841e">t<tspan font-size="8.71" dy="4.8">AGN</tspan><tspan dy="-4.8">(3x10</tspan><tspan font-size="8.71" dy="-7">9</tspan><tspan dy="7"> L</tspan><tspan font-size="8.71" dy="4.8">sun</tspan><tspan dy="-4.8">)</tspan></text>
<text x="367.8" y="85.0" text-anchor="end" fill="#0000ff" stroke="#0000ff">t<tspan font-size="8.71" dy="4.8">AGN</tspan><tspan dy="-4.8">(3% L</tspan><tspan font-size="8.71" dy="4.8">Edd</tspan><tspan dy="-4.8">)</tspan></text>
<text x="366.8" y="108.1" text-anchor="end" fill="#ff00ff" stroke="#ff00ff">t<tspan font-size="8.71" dy="4.8">AGN</tspan><tspan dy="-4.8">(10% L</tspan><tspan font-size="8.71" dy="4.8">Edd</tspan><tspan dy="-4.8">)</tspan></text>
<text x="365.3" y="131.6" text-anchor="end" fill="#000" stroke="#000" font-size="16.5">t<tspan font-size="10.39" dy="4.4" dx="-1.4">obs</tspan></text></g>
<text transform="translate(19.7 135.4) rotate(-90)" text-anchor="middle" font-size="14" fill="#000" stroke="#000" stroke-width="0.25">v<tspan font-size="9.52" dy="4.6">kick</tspan><tspan dy="-4.6"> [km s</tspan><tspan font-size="8.82" dy="-8.3">-1</tspan><tspan dy="8.3">]</tspan></text>
<text transform="translate(19.7 390.9) rotate(-90)" text-anchor="middle" font-size="14" fill="#000" stroke="#000" stroke-width="0.25">v<tspan font-size="9.52" dy="4.6">kick</tspan><tspan dy="-4.6"> [km s</tspan><tspan font-size="8.82" dy="-8.3">-1</tspan><tspan dy="8.3">]</tspan></text>
<text x="228.4" y="532.2" text-anchor="middle" font-size="14" fill="#000" stroke="#000" stroke-width="0.25">t - t<tspan font-size="8.82" dy="4.2">mrg</tspan><tspan dy="-4.2"> [Myr]</tspan></text>
</svg>
</body></html>
